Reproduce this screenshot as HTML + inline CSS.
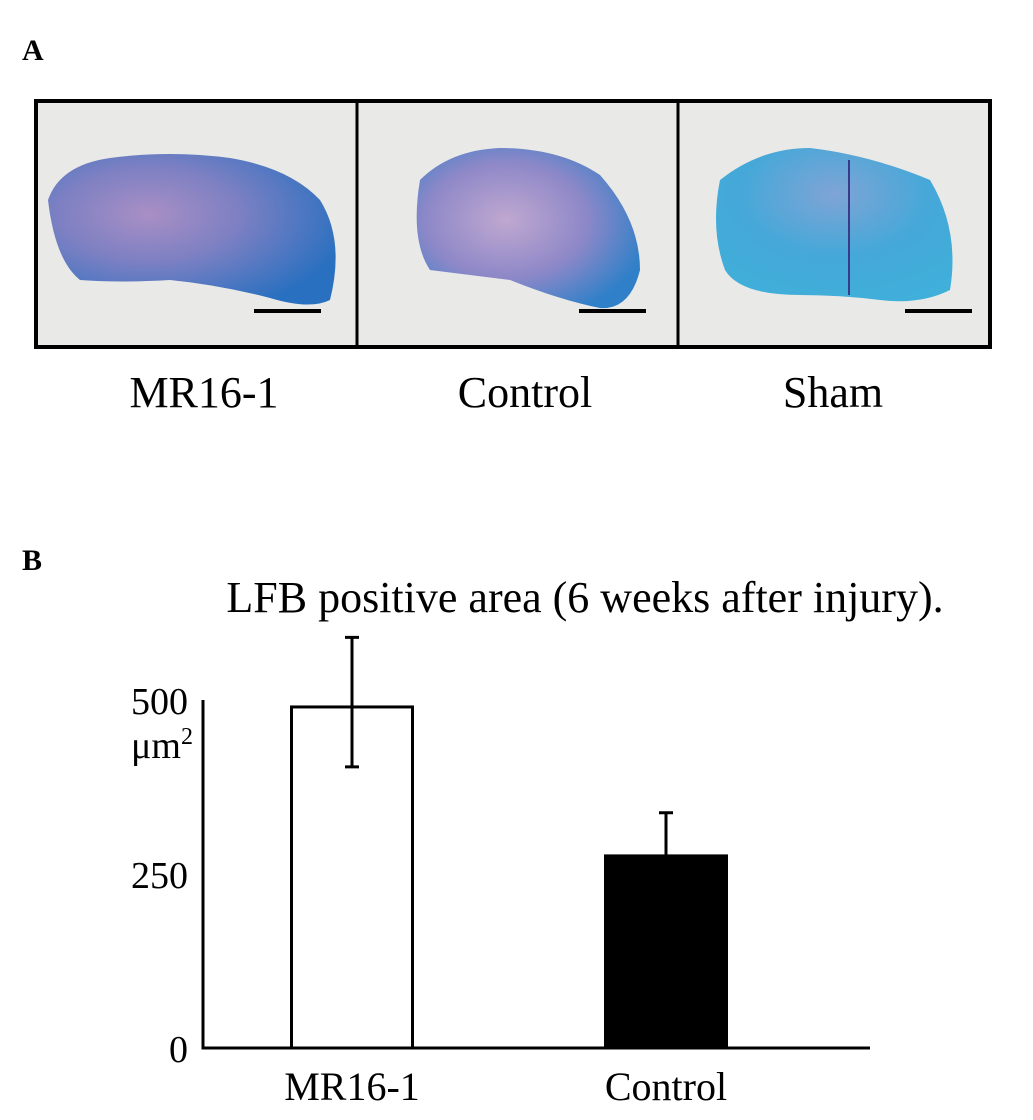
<!DOCTYPE html>
<html><head><meta charset="utf-8"><style>
body{margin:0;background:#fff;width:1033px;height:1120px;overflow:hidden;font-family:"Liberation Serif",serif}
</style></head><body>
<svg width="1033" height="1120" xmlns="http://www.w3.org/2000/svg" style="position:absolute;left:0;top:0" font-family="Liberation Serif, serif">
<text x="22" y="60" font-size="30" font-weight="bold">A</text>
<text x="22" y="570" font-size="30" font-weight="bold">B</text>
<g>
<rect x="36" y="101" width="954" height="246" fill="#e9e9e7"/>
<defs>
<radialGradient id="g1" cx="0.35" cy="0.4" r="0.7"><stop offset="0" stop-color="#a98fc4"/><stop offset="0.45" stop-color="#7d80c3"/><stop offset="1" stop-color="#2a70c0"/></radialGradient>
<radialGradient id="g2" cx="0.4" cy="0.45" r="0.65"><stop offset="0" stop-color="#c0a8d0"/><stop offset="0.55" stop-color="#8e88c8"/><stop offset="1" stop-color="#2f80c8"/></radialGradient>
<radialGradient id="g3" cx="0.5" cy="0.3" r="0.8"><stop offset="0" stop-color="#7fa4d6"/><stop offset="0.5" stop-color="#45a8d8"/><stop offset="1" stop-color="#3fb0da"/></radialGradient>
</defs>
<path d="M48 200 Q60 165 110 158 Q170 150 230 158 Q290 168 320 200 Q345 240 330 300 Q310 310 270 298 Q220 285 170 280 Q120 283 80 280 Q55 260 48 200Z" fill="url(#g1)"/>
<path d="M420 180 Q450 150 500 148 Q560 148 600 175 Q640 220 640 270 Q630 310 600 308 Q560 300 510 280 Q470 275 430 270 Q410 240 420 180Z" fill="url(#g2)"/>
<path d="M720 180 Q760 148 810 148 Q870 155 930 180 Q960 230 950 290 Q920 305 880 300 Q840 295 800 295 Q740 295 725 270 Q710 230 720 180Z" fill="url(#g3)"/>
<line x1="849" y1="160" x2="849" y2="295" stroke="#3a3a8a" stroke-width="2"/>
<g stroke="#000" stroke-width="4">
<line x1="254" y1="311" x2="321" y2="311"/><line x1="579" y1="311" x2="646" y2="311"/><line x1="905" y1="311" x2="972" y2="311"/>
</g>
<rect x="36" y="101" width="954" height="246" fill="none" stroke="#000" stroke-width="4"/>
<line x1="357" y1="101" x2="357" y2="347" stroke="#000" stroke-width="3"/>
<line x1="678" y1="101" x2="678" y2="347" stroke="#000" stroke-width="3"/>
</g>
<text x="204" y="407" font-size="44" text-anchor="middle">MR16-1</text>
<text x="525" y="407" font-size="44" text-anchor="middle">Control</text>
<text x="833" y="407" font-size="44" text-anchor="middle">Sham</text>
<text x="585" y="612" font-size="44" text-anchor="middle">LFB positive area (6 weeks after injury).</text>
<g id="chart"></g>
</svg>
<script>
const categories = ["MR16-1", "Control"];
const means = [490, 276];
const errUpper = [590, 338];
const errLower = [404, 276];
const fills = ["#fff", "#000"];
const yTicks = [0, 250, 500];
const ns = "http://www.w3.org/2000/svg";
const X0 = 203, X1 = 870, Y0 = 1048, Y500 = 700;
function y(v){return Y0 - (Y0 - Y500) * v / 500;}
const centers = [352, 666], bw = 121;
function mk(tag, attrs){const e=document.createElementNS(ns,tag);for(const k in attrs)e.setAttribute(k,attrs[k]);document.getElementById('chart').appendChild(e);return e;}
categories.forEach((c,i)=>{
  const b = mk('rect',{x:centers[i]-bw/2,y:y(means[i]),width:bw,height:Y0-y(means[i]),fill:fills[i],stroke:'#000','stroke-width':3});
  
  
  const e = mk('path',{d:`M${centers[i]} ${y(errLower[i])}V${y(errUpper[i])}M${centers[i]-7} ${y(errUpper[i])}h14`+(errLower[i]<means[i]?`M${centers[i]-7} ${y(errLower[i])}h14`:''),stroke:'#000','stroke-width':3,fill:'none'});
  
  
  const t = mk('text',{x:centers[i],y:1100,'font-size':40,'text-anchor':'middle'});
  t.textContent = c;
  
  
});
const ax = mk('path',{d:`M${X0} ${Y500}V${Y0}H${X1}`,stroke:'#000','stroke-width':3,fill:'none'});


yTicks.forEach(v=>{
  const t = mk('text',{x:188,y:y(v)+14,'font-size':38,'text-anchor':'end'});
  t.textContent = v;
  
  
});
const u = mk('text',{x:131,y:758,'font-size':38});
u.innerHTML = 'μm<tspan dy="-14" font-size="24">2</tspan>';


</script>
</body></html>
